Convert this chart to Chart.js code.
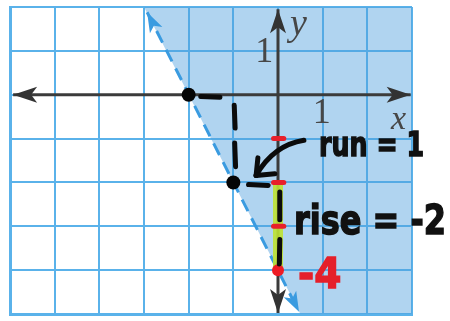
<!DOCTYPE html>
<html>
<head>
<meta charset="utf-8">
<script src="https://cdn.jsdelivr.net/npm/chart.js@4.4.0/dist/chart.umd.min.js"></script>
<style>
  html, body { margin: 0; padding: 0; background: #fff; }
  #wrap { width: 450px; height: 321px; }
</style>
</head>
<body>
<div id="wrap"><canvas id="graph" width="450" height="321"></canvas></div>
<script>
// graph window
const xRange = [-6, 3];
const yRange = [-5, 2];

// boundary y = -2x - 4 (dashed) and the edge of the shaded half-plane
const boundaryLine = [{x: -2.93, y: 1.88}, {x: 0.47, y: -4.95}];
const shadeEdge = [{x: -3.5, y: 3}, {x: 3.5, y: -11}];

// axes with arrows
const xAxisLine = [{x: -5.93, y: 0}, {x: 2.97, y: 0}];
const yAxisLine = [{x: 0, y: 1.95}, {x: 0, y: -4.98}];

// marked points
const slopePoints = [{x: -2, y: 0}, {x: -1, y: -2}];
const interceptPoint = [{x: 0, y: -4}];
const riseSegment = [{x: 0, y: -2}, {x: 0, y: -4}];
const redTicks = [-1, -2, -3];

// hand drawn dashes (run then rise)
const penDashes = [
  [[-1.73, -0.04], [-1.3, -0.06]],
  [[-0.98, -0.24], [-0.96, -0.76]],
  [[-0.97, -1.1], [-0.95, -1.64]],
  [[-0.66, -2.05], [-0.22, -2.07]],
  [[0.04, -2.22], [0.04, -2.85]],
  [[0.04, -3.3], [0.03, -3.86]]
];
const runArrow = {from: [0.58, -1.04], ctrl: [-0.1, -1.15], to: [-0.49, -1.84], arms: [[-0.45, -1.44], [-0.07, -1.8]]};

const axisLabels = [
  {text: '1', x: -0.31, y: 0.74, font: '36px "Liberation Serif"', align: 'center'},
  {text: 'y', x: 0.27, y: 1.36, font: 'italic 38px "Liberation Serif"', align: 'left'},
  {text: '1', x: 0.98, y: -0.65, font: '36px "Liberation Serif"', align: 'center'},
  {text: 'x', x: 2.7, y: -0.79, font: 'italic 34px "Liberation Serif"', align: 'center'}
];
// handwritten notes; width in grid units (text is squeezed to fit)
const notes = [
  {text: 'run = 1', x: 0.92, y: -1.4, size: 34, width: 2.35, color: '#111'},
  {text: 'rise = -2', x: 0.36, y: -3.17, size: 40, width: 3.4, color: '#111'},
  {text: '-4', x: 0.45, y: -4.41, size: 42, width: 0.97, color: '#e5202b'}
];

function arrowHead(ctx, from, to, len, half, color) {
  const a = Math.atan2(to.y - from.y, to.x - from.x);
  ctx.save();
  ctx.translate(to.x, to.y);
  ctx.rotate(a);
  ctx.fillStyle = color;
  ctx.beginPath();
  ctx.moveTo(0, 0);
  ctx.lineTo(-len, -half);
  ctx.lineTo(-len * 0.75, 0);
  ctx.lineTo(-len, half);
  ctx.closePath();
  ctx.fill();
  ctx.restore();
}

const decor = {
  id: 'decor',
  afterDatasetsDraw(chart) {
    const ctx = chart.ctx;
    const sx = chart.scales.x, sy = chart.scales.y;
    const px = (x, y) => ({x: sx.getPixelForValue(x), y: sy.getPixelForValue(y)});

    // arrow heads
    const ends = [[xAxisLine, '#333', 24, 8], [yAxisLine, '#333', 24, 8], [boundaryLine, '#3a9be0', 20, 7]];
    ends.forEach(([pts, color, len, half]) => {
      const a = px(pts[0].x, pts[0].y), b = px(pts[1].x, pts[1].y);
      arrowHead(ctx, a, b, len, half, color);
      arrowHead(ctx, b, a, len, half, color);
    });

    ctx.save();
    ctx.lineCap = 'round';
    // red ticks on the y-axis
    ctx.strokeStyle = '#e8202a';
    ctx.lineWidth = 5;
    redTicks.forEach(v => {
      const a = px(-0.1, v), b = px(0.13, v);
      ctx.beginPath(); ctx.moveTo(a.x, a.y); ctx.lineTo(b.x, b.y); ctx.stroke();
    });

    // pen marks
    ctx.strokeStyle = '#0b0b0b';
    ctx.lineWidth = 5;
    penDashes.forEach(([p, q]) => {
      const a = px(p[0], p[1]), b = px(q[0], q[1]);
      ctx.beginPath(); ctx.moveTo(a.x, a.y); ctx.lineTo(b.x, b.y); ctx.stroke();
    });
    const f = px(...runArrow.from), c = px(...runArrow.ctrl), t = px(...runArrow.to);
    ctx.beginPath(); ctx.moveTo(f.x, f.y); ctx.quadraticCurveTo(c.x, c.y, t.x, t.y); ctx.stroke();
    runArrow.arms.forEach(arm => {
      const e = px(...arm);
      ctx.beginPath(); ctx.moveTo(t.x, t.y); ctx.lineTo(e.x, e.y); ctx.stroke();
    });
    ctx.restore();

    // printed axis labels
    ctx.save();
    ctx.fillStyle = '#474747';
    ctx.textBaseline = 'alphabetic';
    axisLabels.forEach(l => {
      const p = px(l.x, l.y);
      ctx.font = l.font;
      ctx.textAlign = l.align;
      ctx.fillText(l.text, p.x, p.y);
    });

    // handwritten notes
    ctx.textAlign = 'left';
    notes.forEach(n => {
      const p = px(n.x, n.y);
      const w = sx.getPixelForValue(n.x + n.width) - p.x;
      ctx.font = 'bold ' + n.size + 'px "DejaVu Sans"';
      ctx.fillStyle = n.color;
      ctx.strokeStyle = n.color;
      ctx.lineWidth = 1.5;
      ctx.fillText(n.text, p.x, p.y, w);
      ctx.strokeText(n.text, p.x, p.y, w);
    });
    ctx.restore();
  }
};

const gridColor = '#5ab2ea';

new Chart(document.getElementById('graph'), {
  type: 'scatter',
  data: {
    datasets: [
      {data: interceptPoint, pointRadius: 6, pointBackgroundColor: '#ee1c24', pointBorderWidth: 0, order: 1},
      {data: slopePoints, pointRadius: 7, pointBackgroundColor: '#050505', pointBorderWidth: 0, order: 2},
      {data: riseSegment, showLine: true, borderColor: 'rgba(190,226,50,0.9)', borderWidth: 10, pointRadius: 0, order: 3},
      {data: yAxisLine, showLine: true, borderColor: '#3b3b3b', borderWidth: 3, pointRadius: 0, order: 4},
      {data: xAxisLine, showLine: true, borderColor: '#3b3b3b', borderWidth: 3, pointRadius: 0, order: 5},
      {data: boundaryLine, showLine: true, borderColor: '#3a9be0', borderWidth: 3, borderDash: [13, 8], pointRadius: 0, order: 6},
      {data: shadeEdge, showLine: true, borderWidth: 0, borderColor: 'rgba(0,0,0,0)', pointRadius: 0,
        fill: 'end', backgroundColor: 'rgba(80,160,222,0.45)', clip: 0, order: 7}
    ]
  },
  options: {
    responsive: false,
    animation: false,
    events: [],
    layout: {padding: {left: 10, right: 38, top: 4, bottom: 6}},
    plugins: {legend: {display: false}, tooltip: {enabled: false}},
    scales: {
      x: {
        type: 'linear', min: xRange[0], max: xRange[1],
        ticks: {display: false, stepSize: 1},
        grid: {color: gridColor, lineWidth: 2, drawTicks: false},
        border: {color: gridColor, width: 3}
      },
      y: {
        type: 'linear', min: yRange[0], max: yRange[1],
        ticks: {display: false, stepSize: 1},
        grid: {color: gridColor, lineWidth: 2, drawTicks: false},
        border: {color: gridColor, width: 3}
      }
    }
  },
  plugins: [decor]
});
</script>
</body>
</html>
